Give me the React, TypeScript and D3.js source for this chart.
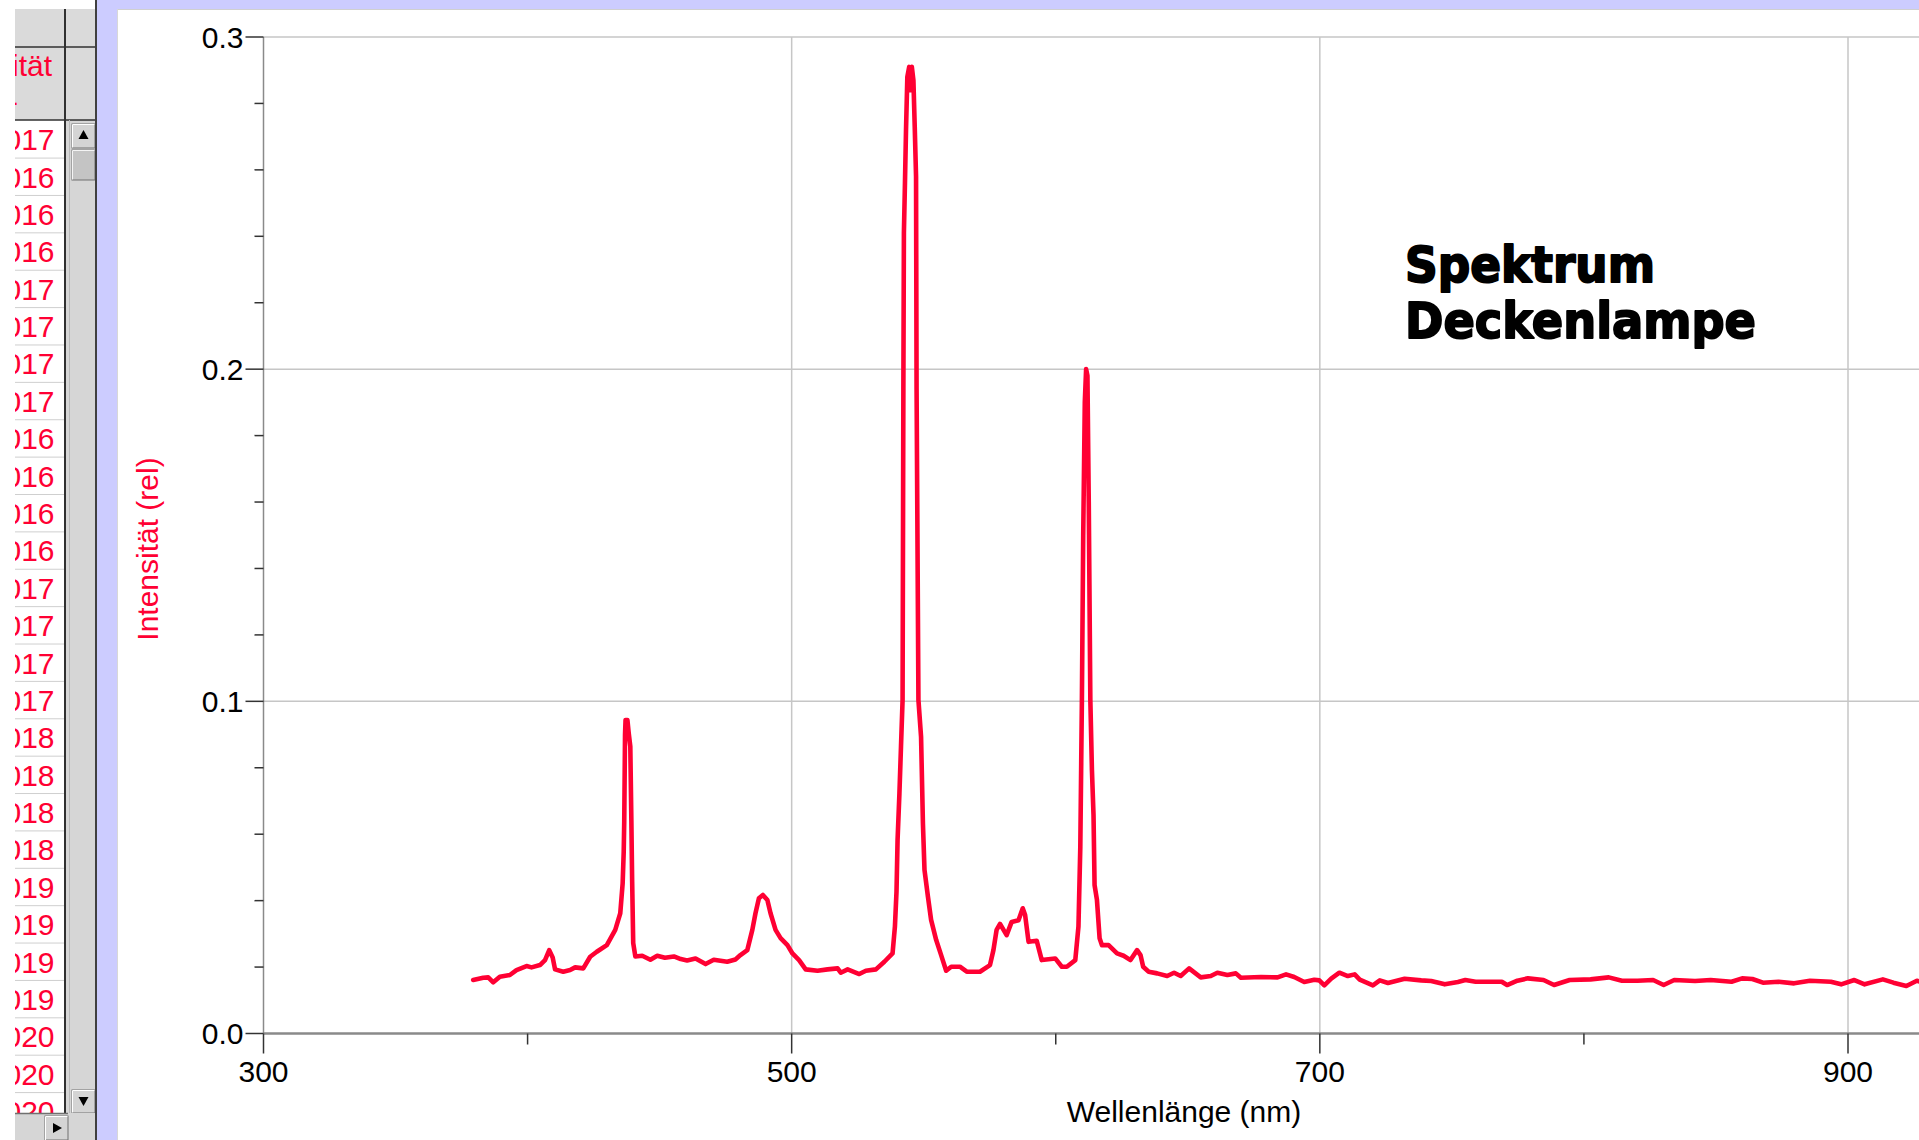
import React from "react";
import * as d3 from "d3";

// ---- Spectrum data ----
const wavelengths = [
  379.4, 383.2, 385.1, 387.0, 389.5, 393.3, 395.8, 399.6, 401.5, 404.7, 406.6, 408.2, 409.5, 410.4,
  413.5, 416.1, 418.0, 421.1, 423.7, 426.2, 430.0, 433.2, 435.1, 436.0, 436.4, 436.6, 436.9, 437.1,
  437.8, 438.3, 438.9, 439.3, 439.6, 440.0, 440.8, 443.4, 446.5, 449.1, 452.0, 455.4, 458.0, 460.4,
  463.6, 467.4, 470.5, 475.6, 478.7, 480.6, 483.2, 485.1, 486.3, 487.6, 489.1, 490.8, 492.0, 493.9,
  495.8, 498.4, 500.3, 502.8, 505.3, 509.8, 513.6, 517.4, 518.6, 521.2, 525.6, 528.1, 531.9, 535.1,
  538.2, 539.1, 539.7, 540.1, 540.8, 541.4, 542.0, 542.3, 542.5, 542.9, 543.3, 543.8, 544.5, 545.0,
  545.5, 546.1, 546.6, 547.1, 547.3, 548.0, 549.0, 549.7, 550.3, 551.6, 552.8, 554.7, 556.6, 558.5,
  560.4, 563.7, 566.3, 571.3, 575.1, 576.4, 577.6, 578.9, 581.4, 583.3, 585.9, 587.5, 588.4, 589.7,
  592.8, 594.7, 599.8, 602.3, 604.2, 607.4, 608.6, 609.3, 609.9, 610.4, 611.0, 611.5, 612.0, 612.5,
  613.1, 613.7, 614.3, 614.7, 615.6, 616.6, 617.5, 620.0, 623.2, 625.7, 628.3, 630.8, 632.1, 633.1,
  635.2, 638.4, 642.2, 644.8, 647.3, 650.5, 654.9, 658.7, 661.2, 665.0, 668.2, 670.1, 677.7, 684.0,
  687.2, 690.3, 694.1, 697.9, 699.8, 701.7, 704.3, 707.4, 710.6, 713.2, 715.1, 720.1, 722.7, 725.8,
  732.1, 738.4, 742.2, 747.3, 752.3, 755.1, 759.0, 768.9, 770.9, 774.8, 778.8, 784.7, 788.7, 794.6,
  802.5, 809.4, 814.4, 820.3, 826.2, 830.2, 834.2, 842.1, 848.0, 855.9, 859.9, 863.8, 867.8, 873.7,
  879.6, 885.6, 893.5, 897.4, 902.4, 906.3, 913.2, 917.2, 922.1, 926.1, 929.0,
];
const intensities = [
  0.0161, 0.0168, 0.0169, 0.0154, 0.0171, 0.0176, 0.0191, 0.0203, 0.0199, 0.0206, 0.0221, 0.0251, 0.0229, 0.0193,
  0.0186, 0.0191, 0.0199, 0.0196, 0.0231, 0.0246, 0.0266, 0.0312, 0.0362, 0.0452, 0.0547, 0.0638, 0.09, 0.0944,
  0.0944, 0.0904, 0.0864, 0.0641, 0.0457, 0.0272, 0.0232, 0.0234, 0.0222, 0.0234, 0.0228, 0.0232, 0.0224, 0.022,
  0.0226, 0.0209, 0.0222, 0.0216, 0.0223, 0.0236, 0.0251, 0.0312, 0.0362, 0.0407, 0.0417, 0.0402, 0.0362, 0.0312,
  0.0287, 0.0266, 0.0241, 0.0221, 0.0193, 0.0189, 0.0193, 0.0196, 0.0183, 0.0193, 0.0179, 0.0189, 0.0193, 0.0216,
  0.0241, 0.0322, 0.0427, 0.0582, 0.0722, 0.0864, 0.1004, 0.194, 0.241, 0.256, 0.272, 0.288, 0.291, 0.284,
  0.291, 0.287, 0.273, 0.258, 0.194, 0.1004, 0.0893, 0.0633, 0.0492, 0.0412, 0.0342, 0.0282, 0.0236, 0.0189,
  0.0201, 0.0201, 0.0186, 0.0186, 0.0206, 0.0251, 0.0312, 0.033, 0.0296, 0.0336, 0.0341, 0.0377, 0.0357, 0.0276,
  0.0279, 0.0221, 0.0226, 0.0201, 0.0201, 0.0221, 0.0322, 0.0562, 0.1004, 0.15, 0.19, 0.2, 0.198, 0.16,
  0.1004, 0.0793, 0.0658, 0.0447, 0.0402, 0.0287, 0.0266, 0.0266, 0.0241, 0.0234, 0.0221, 0.0251, 0.0236, 0.0201,
  0.0186, 0.0181, 0.0173, 0.0183, 0.0173, 0.0196, 0.0169, 0.0173, 0.0183, 0.0176, 0.0181, 0.0168, 0.017, 0.0169,
  0.0178, 0.017, 0.0155, 0.0162, 0.016, 0.0145, 0.0165, 0.0183, 0.0173, 0.0178, 0.0162, 0.0145, 0.016, 0.0152,
  0.0165, 0.016, 0.0158, 0.0148, 0.0155, 0.0161, 0.0156, 0.0156, 0.0146, 0.0159, 0.0166, 0.0161, 0.0146, 0.0161,
  0.0163, 0.0169, 0.0159, 0.0159, 0.0161, 0.0146, 0.0161, 0.0158, 0.0161, 0.0156, 0.0166, 0.0164, 0.0153, 0.0156,
  0.0151, 0.0159, 0.0156, 0.0148, 0.0161, 0.0148, 0.0163, 0.0153, 0.0143, 0.0159, 0.0152,
];

const xMajorTicks = [300, 500, 700, 900];
const xMinorTicks = [400, 600, 800];
const yMajorTicks = [0.0, 0.1, 0.2, 0.3];
const xGridTicks = [500, 700, 900];
const yGridTicks = [0.1, 0.2, 0.3];

// Table column visible on the left (intensity values)
const tableValues = [
  0.017, 0.016, 0.016, 0.016, 0.017, 0.017, 0.017, 0.017, 0.016, 0.016, 0.016, 0.016, 0.017, 0.017,
  0.017, 0.017, 0.018, 0.018, 0.018, 0.018, 0.019, 0.019, 0.019, 0.019, 0.02, 0.02, 0.02,
];

const titleLines = ["Spektrum", "Deckenlampe"];
const xTitle = "Wellenlänge (nm)";
const yTitle = "Intensität (rel)";
const tableHeader = "Intensität";

const RED = "#ff0033";
const FONT = "'Liberation Sans', Arial, sans-serif";

export default function App() {
  const W = 1919;
  const H = 1140;
  const x = d3.scaleLinear().domain([300, 900]).range([263.5, 1848]);
  const y = d3.scaleLinear().domain([0, 0.3]).range([1033.5, 37]);
  const yMinor = d3.range(0.02, 0.3, 0.02).filter((v) => Math.abs((v * 10) % 1) > 0.05 && Math.abs((v * 10) % 1) < 0.95);

  const data = wavelengths.map((w, i) => [w, intensities[i]] as [number, number]);
  const line = d3
    .line<[number, number]>()
    .x((d) => x(d[0]))
    .y((d) => y(d[1]));

  const fmt = d3.format(".3f");
  const rowTop = 120.7;
  const rowH = 37.38;
  const x0 = x(300);
  const yBase = y(0);

  return (
    <svg
      width={W}
      height={H}
      style={{ position: "absolute", left: 0, top: 0, display: "block", background: "#fff" }}
      fontFamily={FONT}
    >
      <defs>
        <clipPath id="plotClip">
          <rect x={117} y={10} width={W - 117} height={H - 10} />
        </clipPath>
        <clipPath id="tableClip">
          <rect x={15} y={120} width={49} height={993} />
        </clipPath>
        <clipPath id="headClip">
          <rect x={15} y={9} width={49} height={111} />
        </clipPath>
      </defs>

      {/* lavender frame */}
      <rect x={97} y={0} width={W - 97} height={H} fill="#ccccff" />
      <rect x={117} y={9} width={W - 117} height={H - 9} fill="#ffffff" />
      <line x1={117} y1={9.5} x2={W} y2={9.5} stroke="#d0d0d0" strokeWidth={1} />
      <line x1={117.5} y1={9} x2={117.5} y2={H} stroke="#d8d8d8" strokeWidth={1} />

      {/* left data table */}
      <rect x={15} y={9} width={82} height={111} fill="#dadada" />
      <rect x={15} y={120} width={50} height={993} fill="#ffffff" />
      <rect x={65} y={120} width={32} height={993} fill="#d6d6d6" />
      <g clipPath="url(#headClip)">
        <text x={52} y={76} textAnchor="end" fontSize={30} fill={RED}>
          {tableHeader}
        </text>
        <text x={18} y={112} textAnchor="end" fontSize={30} fill={RED}>
          -
        </text>
      </g>
      <line x1={15} y1={47} x2={97} y2={47} stroke="#303030" strokeWidth={1.5} />
      <line x1={15} y1={120} x2={97} y2={120} stroke="#303030" strokeWidth={1.5} />
      <g clipPath="url(#tableClip)">
        {tableValues.map((v, i) => (
          <g key={i}>
            <line
              x1={15}
              x2={64}
              y1={rowTop + (i + 1) * rowH}
              y2={rowTop + (i + 1) * rowH}
              stroke="#cfcfcf"
              strokeWidth={1}
            />
            <text x={54.5} y={rowTop + i * rowH + 29.5} textAnchor="end" fontSize={30} fill={RED}>
              {fmt(v)}
            </text>
          </g>
        ))}
      </g>
      <line x1={65} y1={9} x2={65} y2={1113} stroke="#303030" strokeWidth={2} />
      <line x1={69.5} y1={120} x2={69.5} y2={1113} stroke="#b8b8b8" strokeWidth={1} />
      {/* vertical scrollbar buttons */}
      <g>
        <rect x={72} y={124} width={23} height={24} fill="#d4d4d4" stroke="#707070" strokeWidth={1} />
        <line x1={72.5} y1={124.5} x2={94.5} y2={124.5} stroke="#ffffff" />
        <line x1={72.5} y1={124.5} x2={72.5} y2={147.5} stroke="#ffffff" />
        <path d="M 83.5 130 L 88.5 139 L 78.5 139 Z" fill="#000" />
        <rect x={72} y={150} width={23} height={30} fill="#c4c4c4" stroke="#707070" strokeWidth={1} />
        <line x1={72.5} y1={150.5} x2={94.5} y2={150.5} stroke="#f4f4f4" />
        <line x1={72.5} y1={150.5} x2={72.5} y2={179.5} stroke="#f4f4f4" />
        <rect x={72} y={1090} width={23} height={23} fill="#d4d4d4" stroke="#707070" strokeWidth={1} />
        <line x1={72.5} y1={1090.5} x2={94.5} y2={1090.5} stroke="#ffffff" />
        <line x1={72.5} y1={1090.5} x2={72.5} y2={1112.5} stroke="#ffffff" />
        <path d="M 78.5 1097 L 88.5 1097 L 83.5 1106 Z" fill="#000" />
      </g>
      {/* horizontal scrollbar */}
      <rect x={15} y={1113} width={82} height={27} fill="#d6d6d6" />
      <line x1={15} y1={1113.5} x2={68} y2={1113.5} stroke="#707070" strokeWidth={1.5} />
      <rect x={45} y={1116} width={23} height={24} fill="#d4d4d4" stroke="#707070" strokeWidth={1} />
      <line x1={45.5} y1={1116.5} x2={67.5} y2={1116.5} stroke="#ffffff" />
      <line x1={45.5} y1={1116.5} x2={45.5} y2={1140} stroke="#ffffff" />
      <path d="M 53 1123 L 62 1128 L 53 1133 Z" fill="#000" />
      <line x1={96} y1={0} x2={96} y2={H} stroke="#404040" strokeWidth={2} />

      {/* plot */}
      <g clipPath="url(#plotClip)">
        {/* grid */}
        {yGridTicks.map((t) => (
          <line key={"gy" + t} x1={x0} x2={W} y1={y(t)} y2={y(t)} stroke="#c6c6c6" strokeWidth={1.5} />
        ))}
        {xGridTicks.map((t) => (
          <line key={"gx" + t} x1={x(t)} x2={x(t)} y1={y(0.3)} y2={yBase} stroke="#c6c6c6" strokeWidth={1.5} />
        ))}
        {/* axes */}
        <line x1={x0} x2={x0} y1={y(0.3)} y2={yBase} stroke="#8a8a8a" strokeWidth={1.5} />
        <line x1={x0} x2={W} y1={yBase} y2={yBase} stroke="#8a8a8a" strokeWidth={2.5} />
        {/* y ticks */}
        {yMajorTicks.map((t) => (
          <g key={"yt" + t}>
            <line x1={x0 - 18} x2={x0} y1={y(t)} y2={y(t)} stroke="#333" strokeWidth={1.5} />
            <text x={x0 - 20} y={y(t)} dy="0.36em" textAnchor="end" fontSize={30} fill="#000">
              {t.toFixed(1)}
            </text>
          </g>
        ))}
        {yMinor.map((t) => (
          <line key={"ym" + t} x1={x0 - 9} x2={x0} y1={y(t)} y2={y(t)} stroke="#333" strokeWidth={1.5} />
        ))}
        {/* x ticks */}
        {xMajorTicks.map((t) => (
          <g key={"xt" + t}>
            <line x1={x(t)} x2={x(t)} y1={yBase} y2={yBase + 20} stroke="#333" strokeWidth={1.5} />
            <text x={x(t)} y={yBase + 48} textAnchor="middle" fontSize={30} fill="#000">
              {t}
            </text>
          </g>
        ))}
        {xMinorTicks.map((t) => (
          <line key={"xm" + t} x1={x(t)} x2={x(t)} y1={yBase} y2={yBase + 11} stroke="#333" strokeWidth={1.5} />
        ))}
        {/* spectrum */}
        <path d={line(data) || ""} fill="none" stroke={RED} strokeWidth={4.6} strokeLinejoin="round" strokeLinecap="round" />
        {/* axis titles */}
        <text x={1184} y={1122} textAnchor="middle" fontSize={30} fill="#000">
          {xTitle}
        </text>
        <text transform="translate(158,549) rotate(-90)" textAnchor="middle" fontSize={30} fill={RED}>
          {yTitle}
        </text>
        {/* title */}
        {titleLines.map((s, i) => (
          <text
            key={s}
            x={1405}
            y={282 + i * 56}
            fontFamily="'DejaVu Sans', sans-serif"
            fontWeight="bold"
            fontSize={50}
            fill="#000"
            stroke="#000"
            strokeWidth={2}
            strokeLinejoin="round"
            textLength={i === 0 ? 250 : 351}
            lengthAdjust="spacingAndGlyphs"
          >
            {s}
          </text>
        ))}
      </g>
    </svg>
  );
}
